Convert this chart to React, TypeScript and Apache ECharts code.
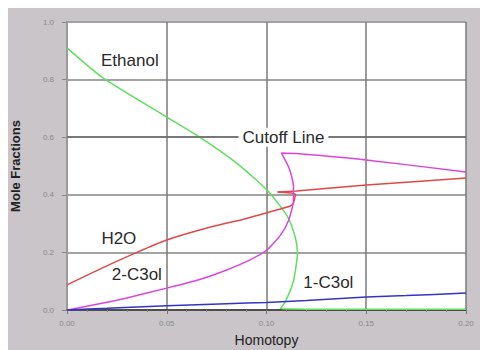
import React, { useEffect, useRef } from "react";
import * as echarts from "echarts";

const xTicks = ["0.00", "0.05", "0.10", "0.15", "0.20"];
const yTicks = ["0.0", "0.2", "0.4", "0.6", "0.8", "1.0"];

const ethanol: [number, number][] = [
  [0, 0.91], [0.018, 0.806], [0.05, 0.67], [0.0665, 0.6], [0.085, 0.51],
  [0.1005, 0.415], [0.1105, 0.325], [0.1145, 0.25], [0.1155, 0.2], [0.1135, 0.1],
  [0.1095, 0.03], [0.107, 0.004], [0.12, 0.003], [0.2, 0.003],
];
const h2o: [number, number][] = [
  [0, 0.087], [0.0165, 0.142], [0.035, 0.2], [0.05, 0.243], [0.0715, 0.287],
  [0.09, 0.318], [0.105, 0.347], [0.113, 0.365], [0.1145, 0.402], [0.1055, 0.41],
  [0.115, 0.413], [0.15, 0.434], [0.2, 0.458],
];
const c3ol2: [number, number][] = [
  [0, 0], [0.013, 0.017], [0.03, 0.042], [0.05, 0.076], [0.0665, 0.106], [0.08, 0.139],
  [0.092, 0.175], [0.1005, 0.21], [0.107, 0.26], [0.111, 0.31], [0.1135, 0.38],
  [0.1135, 0.43], [0.1115, 0.49], [0.1075, 0.545], [0.115, 0.543], [0.15, 0.521],
  [0.2, 0.479],
];
const c3ol1: [number, number][] = [
  [0, 0], [0.02, 0.006], [0.05, 0.015], [0.08, 0.022], [0.1, 0.026],
  [0.12, 0.033], [0.15, 0.045], [0.17, 0.05], [0.2, 0.059],
];
const cutoff = 0.6;

const labelFont = { fontFamily: "Liberation Sans, Arial, sans-serif", fontSize: 17, color: "#2a2a2a" };

function tag(text: string, x: number, y: number, extra: any = {}) {
  return {
    symbol: "rect",
    symbolSize: 1,
    itemStyle: { color: "transparent" },
    label: { show: true, position: "inside", formatter: text, ...labelFont, ...extra },
    data: [{ coord: [x, y] }],
  };
}

export default function App() {
  const ref = useRef<HTMLDivElement>(null);
  useEffect(() => {
    if (!ref.current) return;
    const chart = echarts.init(ref.current, undefined, { renderer: "svg" });
    const lineBase = { type: "line", showSymbol: false, symbol: "none", smooth: 0.2, z: 3 };
    chart.setOption({
      animation: false,
      backgroundColor: "#c9c5c9",
      grid: {
        left: 59, right: 14, top: 14, bottom: 40, show: true,
        backgroundColor: "#ffffff", borderWidth: 0, outerBoundsMode: "none",
      },
      xAxis: {
        type: "value", min: 0, max: 0.2, interval: 0.05,
        name: "Homotopy", nameLocation: "middle", nameGap: 23,
        nameTextStyle: { fontFamily: "Liberation Sans, Arial, sans-serif", fontSize: 14, color: "#222" },
        axisLine: { show: true, lineStyle: { color: "#333", width: 1.5 } },
        axisTick: { show: true, length: 4, lineStyle: { color: "#777" } },
        minorTick: { show: true, splitNumber: 5, length: 2, lineStyle: { color: "#888" } },
        axisLabel: {
          formatter: (v: number) => xTicks[Math.round(v / 0.05)] ?? "",
          fontSize: 8, color: "#8a8a8a", margin: 9, fontFamily: "Liberation Sans, Arial, sans-serif",
          showMaxLabel: true,
        },
        splitLine: { show: true, lineStyle: { color: "#7a7a7a", width: 1.5 } },
      },
      yAxis: {
        type: "value", min: 0, max: 1, interval: 0.2,
        name: "Mole Fractions", nameLocation: "middle", nameGap: 45, nameRotate: 90,
        nameTextStyle: { fontFamily: "Liberation Sans, Arial, sans-serif", fontSize: 13, fontWeight: "bold", color: "#222" },
        axisLine: { show: true, lineStyle: { color: "#9a9a9a", width: 2 } },
        axisTick: { show: true, length: 5, lineStyle: { color: "#888" } },
        axisLabel: {
          formatter: (v: number) => yTicks[Math.round(v / 0.2)] ?? "",
          fontSize: 8, color: "#8a8a8a", margin: 13, fontFamily: "Liberation Sans, Arial, sans-serif",
        },
        splitLine: { show: true, lineStyle: { color: "#a3a3a3", width: 2 } },
      },
      series: [
        {
          ...lineBase, name: "Ethanol", data: ethanol,
          lineStyle: { color: "#5ee05e", width: 1.5 },
          markPoint: tag("Ethanol", 0.0315, 0.868),
          markLine: {
            silent: true, symbol: "none",
            lineStyle: { color: "#6a6a6a", width: 1.5, type: "solid" },
            label: { show: false },
            data: [{ yAxis: cutoff }],
          },
        },
        {
          ...lineBase, name: "H2O", data: h2o,
          lineStyle: { color: "#e04848", width: 1.5 },
          markPoint: tag("H2O", 0.026, 0.25),
        },
        {
          ...lineBase, name: "2-C3ol", data: c3ol2,
          lineStyle: { color: "#dd44dd", width: 1.5 },
          markPoint: tag("2-C3ol", 0.035, 0.122),
        },
        {
          ...lineBase, name: "1-C3ol", data: c3ol1,
          lineStyle: { color: "#3434c4", width: 1.5 },
          markPoint: tag("1-C3ol", 0.131, 0.094),
        },
        {
          type: "line", name: "Cutoff", data: [], z: 5,
          markPoint: {
            ...tag("Cutoff Line", 0.1085, cutoff, { backgroundColor: "#ffffff", padding: [1, 4] }),
            z: 6,
          },
        },
      ],
    });
    return () => chart.dispose();
  }, []);
  return <div ref={ref} style={{ position: "fixed", left: 8, top: 8, width: 472, height: 342 }} />;
}
